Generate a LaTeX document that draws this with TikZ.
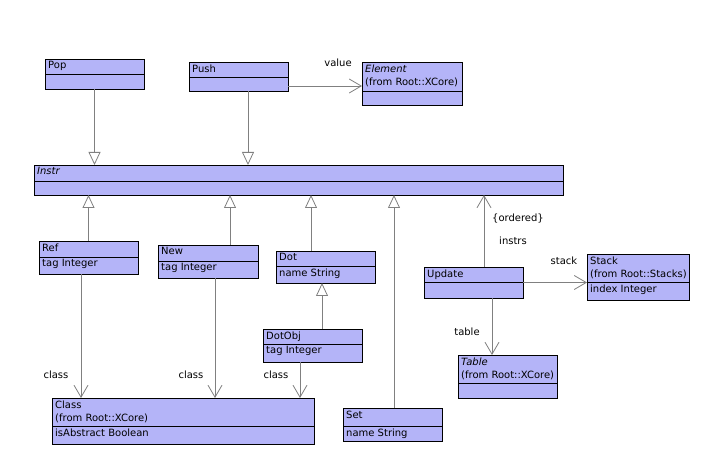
\documentclass[tikz,border=0pt]{standalone}
\usepackage{fontspec}
\setmainfont{DejaVu Sans}
\usetikzlibrary{arrows.meta}
\definecolor{boxfill}{RGB}{180,180,248}
\definecolor{linegray}{RGB}{128,128,128}
\tikzset{
  umlrect/.style={draw=black, fill=boxfill, line width=0.9pt, inner sep=0pt, outer sep=0pt, anchor=north west},
  divider/.style={draw=black, line width=0.9pt},
  txt/.style={font=\fontsize{10}{13}\selectfont, inner xsep=3pt, inner ysep=2.5pt, align=left},
  lbl/.style={font=\fontsize{10}{13}\selectfont, inner sep=0pt},
  inh/.style={draw=linegray, line width=0.8pt, -{Triangle[length=13pt,width=12pt,fill=white,line width=0.8pt]}},
  nav/.style={draw=linegray, line width=0.8pt, -{Straight Barb[length=12pt,width=14pt,line width=0.8pt]}},
}
\newcommand{\umlbox}[8]{%
  \node[umlrect, minimum width={(#4-(#2))*1pt}, minimum height={(#6-(#3))*1pt}] (#1) at (#2,#3) {};
  \draw[divider] (#2,#5) -- (#4,#5);
  \node[txt, anchor=north west] at (#1.north west) {#7};
  \node[txt, anchor=north west] at (#2,#5) {#8};
}
\begin{document}
\begin{tikzpicture}[x=1pt,y=-1pt]
\useasboundingbox[fill=white] (0,0) rectangle (710,465);
% boxes
\umlbox{pop}{45}{59}{144}{74}{89}{Pop}{}
\umlbox{push}{189}{62}{288}{77}{91}{Push}{}
\umlbox{element}{362}{62}{462}{91}{105}{\textit{Element}\\(from Root::XCore)}{}
\umlbox{instr}{34}{165}{563}{181}{195}{\textit{Instr}}{}
\umlbox{ref}{39}{241}{138}{257}{274}{Ref}{tag Integer}
\umlbox{new}{158}{245}{258}{261}{278}{New}{tag Integer}
\umlbox{dot}{276}{251}{375}{266}{283}{Dot}{name String}
\umlbox{dotobj}{263}{329}{362}{344}{362}{DotObj}{tag Integer}
\umlbox{class}{52}{398}{314}{426}{444}{Class\\(from Root::XCore)}{isAbstract Boolean}
\umlbox{set}{343}{408}{442}{426}{441}{Set}{name String}
\umlbox{update}{424}{267}{523}{282}{298}{Update}{}
\umlbox{stack}{587}{254}{689}{282}{300}{Stack\\(from Root::Stacks)}{index Integer}
\umlbox{table}{458}{355}{557}{383}{398}{\textit{Table}\\(from Root::XCore)}{}
% generalizations
\draw[inh] (pop.south) -- (pop.south |- instr.north);
\coordinate (pushx) at ([xshift=9.5pt]push.south);
\draw[inh] (pushx) -- (pushx |- instr.north);
\draw[inh] (ref.north) -- (ref.north |- instr.south);
\coordinate (newx) at ([xshift=22pt]new.north);
\draw[inh] (newx) -- (newx |- instr.south);
\coordinate (dotx) at ([xshift=-14.5pt]dot.north);
\draw[inh] (dotx) -- (dotx |- instr.south);
\coordinate (setx) at ([xshift=1.5pt]set.north);
\draw[inh] (setx) -- (setx |- instr.south);
\coordinate (dox) at ([xshift=9.5pt]dotobj.north);
\draw[inh] (dox) -- (dox |- dot.south);
% associations
\coordinate (pv) at ([yshift=-9.5pt]push.east);
\draw[nav] (pv) -- (pv -| element.west);
\coordinate (updx) at ([xshift=10.5pt]update.north);
\draw[nav] (updx) -- (updx |- instr.south);
\draw[nav] (update.east) -- (update.east -| stack.west);
\coordinate (tabx) at ([xshift=18.5pt]update.south);
\draw[nav] (tabx) -- (tabx |- table.north);
\coordinate (refx) at ([xshift=-7.5pt]ref.south);
\draw[nav] (refx) -- (refx |- class.north);
\coordinate (newc) at ([xshift=7pt]new.south);
\draw[nav] (newc) -- (newc |- class.north);
\coordinate (doc) at ([xshift=-12.5pt]dotobj.south);
\draw[nav] (doc) -- (doc |- class.north);
% labels
\node[lbl] (lvalue) at (338,63) {value};
\node[lbl] (lclass1) at (56,375) {class};
\node[lbl] (lclass2) at (191,375) {class};
\node[lbl] (lclass3) at (276,375) {class};
\node[lbl] (lordered) at (518,219) {\{ordered\}};
\node[lbl] (linstrs) at (513,241) {instrs};
\node[lbl] (lstack) at (564,261) {stack};
\node[lbl] (ltable) at (467,332) {table};
\end{tikzpicture}
\end{document}
